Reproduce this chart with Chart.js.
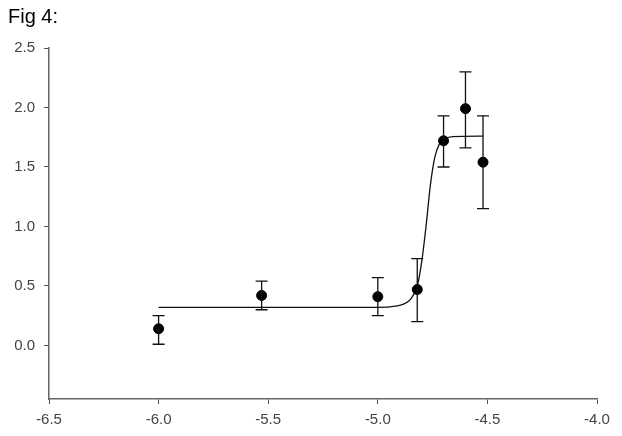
<!DOCTYPE html>
<html>
<head>
<meta charset="utf-8">
<script src="https://cdn.jsdelivr.net/npm/chart.js@4"></script>
<style>
  body { margin: 0; background: #fff; }
  #wrap { position: relative; width: 622px; height: 436px; }
  #fig { position: absolute; left: 8px; top: 5px; font: 20px "Liberation Sans", Arial, sans-serif; color: #000; }
</style>
</head>
<body>
<div id="wrap">
  <div id="fig">Fig 4:</div>
  <canvas id="figChart" width="622" height="436"></canvas>
</div>
<script>
// measured points (log conc vs response)
const xVals = [-6.0, -5.53, -5.0, -4.82, -4.70, -4.60, -4.52];
const yVals = [0.14, 0.42, 0.41, 0.47, 1.72, 1.99, 1.54];
const errLow = [0.01, 0.30, 0.25, 0.20, 1.50, 1.66, 1.15];
const errHigh = [0.25, 0.54, 0.57, 0.73, 1.93, 2.30, 1.93];

// fitted curve
const fitX = [-6.0, -5.0, -4.92, -4.88, -4.85, -4.82, -4.80, -4.78, -4.76, -4.74, -4.72, -4.70, -4.66, -4.52];
const fitY = [0.32, 0.32, 0.33, 0.35, 0.39, 0.50, 0.70, 1.00, 1.35, 1.58, 1.69, 1.73, 1.755, 1.76];

const xTicks = [-6.5, -6.0, -5.5, -5.0, -4.5, -4.0];
const yTicks = [0.0, 0.5, 1.0, 1.5, 2.0, 2.5];

const errorBars = {
    id: 'errorBars',
    afterDatasetsDraw(chart) {
        const ctx = chart.ctx;
        const xs = chart.scales.x, ys = chart.scales.y;
        ctx.save();
        ctx.strokeStyle = '#111';
        ctx.lineWidth = 1.3;
        for (let i = 0; i < xVals.length; i++) {
            const px = xs.getPixelForValue(xVals[i]);
            const top = ys.getPixelForValue(errHigh[i]);
            const bot = ys.getPixelForValue(errLow[i]);
            ctx.beginPath();
            ctx.moveTo(px, top); ctx.lineTo(px, bot);
            ctx.moveTo(px - 6, top); ctx.lineTo(px + 6, top);
            ctx.moveTo(px - 6, bot); ctx.lineTo(px + 6, bot);
            ctx.stroke();
        }
        ctx.restore();
    }
};

const tickFont = { family: '"Liberation Sans", Arial, sans-serif', size: 15 };

new Chart(document.getElementById('figChart').getContext('2d'), {
    type: 'scatter',
    data: {
        datasets: [{
            label: 'fit',
            data: fitX.map((x, i) => ({ x: x, y: fitY[i] })),
            showLine: true,
            borderColor: '#111',
            borderWidth: 1.3,
            pointRadius: 0,
            cubicInterpolationMode: 'monotone',
            order: 2
        }, {
            label: 'data',
            data: xVals.map((x, i) => ({ x: x, y: yVals[i] })),
            backgroundColor: '#000',
            borderColor: '#000',
            pointRadius: 5,
            order: 1
        }]
    },
    options: {
        responsive: false,
        animation: false,
        layout: { padding: { top: 48, right: 25, left: 0, bottom: 0 } },
        plugins: {
            legend: { display: false },
            tooltip: { enabled: false }
        },
        scales: {
            x: {
                type: 'linear',
                min: -6.5,
                max: -4.0,
                afterBuildTicks: (s) => { s.ticks = xTicks.map(v => ({ value: v })); },
                afterFit: (s) => { s.height = 37; },
                grid: { drawOnChartArea: false, tickLength: 5, color: '#555' },
                border: { color: '#666', width: 1.5 },
                ticks: { font: tickFont, color: '#444', padding: 7, maxRotation: 0,
                         callback: (v) => Number(v).toFixed(1) }
            },
            y: {
                min: -0.45,
                max: 2.5,
                afterBuildTicks: (s) => { s.ticks = yTicks.map(v => ({ value: v })); },
                afterFit: (s) => { s.width = 49; },
                grid: { drawOnChartArea: false, tickLength: 5, color: '#555' },
                border: { color: '#666', width: 1.5 },
                ticks: { font: tickFont, color: '#444', padding: 9,
                         callback: (v) => Number(v).toFixed(1) }
            }
        }
    },
    plugins: [errorBars]
});
</script>
</body>
</html>
